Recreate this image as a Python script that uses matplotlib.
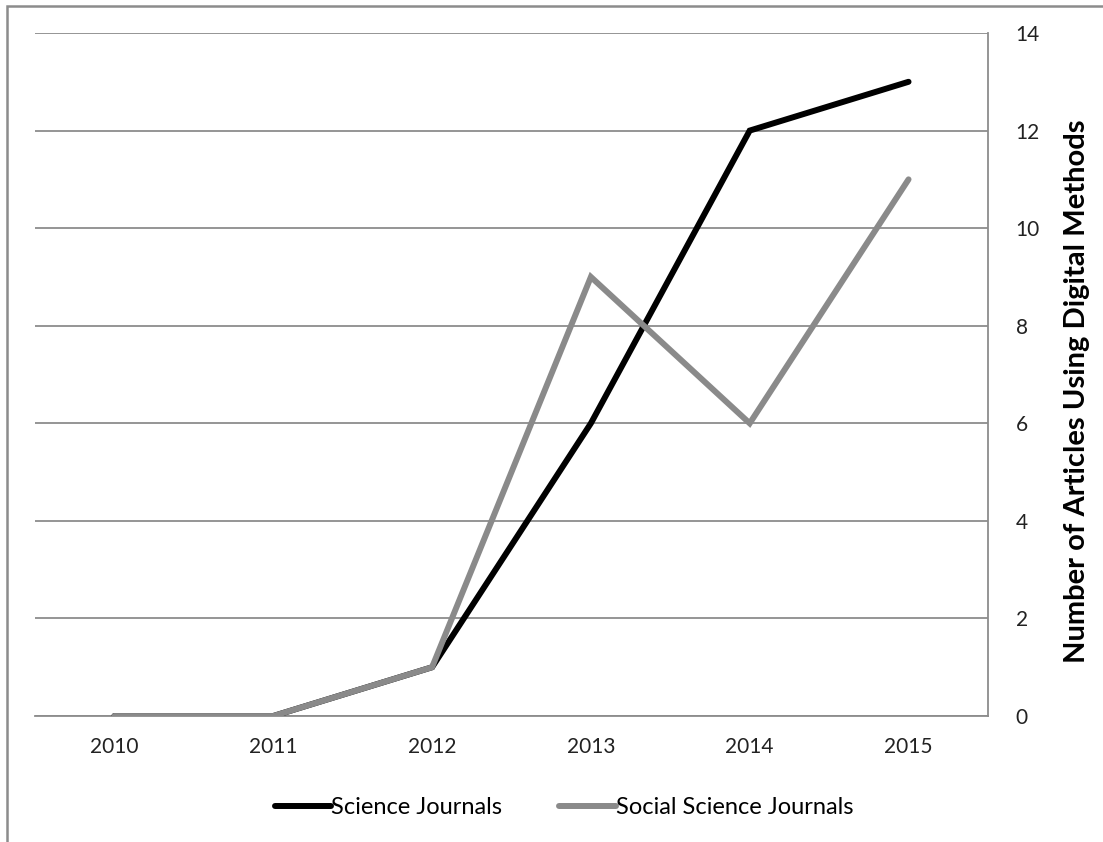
import matplotlib
matplotlib.use("Agg")
import matplotlib.pyplot as plt
from matplotlib.patches import Rectangle

years = ["2010", "2011", "2012", "2013", "2014", "2015"]
science = [0, 0, 1, 6, 12, 13]
social_science = [0, 0, 1, 9, 6, 11]
y_ticks = [0, 2, 4, 6, 8, 10, 12, 14]

plt.rcParams["font.family"] = ["Lato", "DejaVu Sans"]

fig = plt.figure(figsize=(11.03, 8.42), dpi=100)
ax = fig.add_axes([0.0317, 0.1496, 0.8640, 0.8112])

# outer chart frame (only top and left edges are visible)
fig.patches.append(Rectangle((0.0063, -0.05), 1.2, 0.9929 + 0.05,
                             transform=fig.transFigure, fill=False,
                             edgecolor="#8c8c8c", linewidth=1.8))

x = list(range(len(years)))
ax.plot(x, science, color="black", linewidth=4.3, label="Science Journals",
        solid_capstyle="round", solid_joinstyle="miter", zorder=3)
ax.plot(x, social_science, color="#8a8a8a", linewidth=4.3,
        label="Social Science Journals",
        solid_capstyle="round", solid_joinstyle="miter", zorder=4)

ax.set_xlim(-0.5, len(years) - 0.5)
ax.set_ylim(0, 14)
ax.set_xticks(x)
ax.set_xticklabels(years)
ax.set_yticks(y_ticks)

ax.yaxis.tick_right()
ax.yaxis.set_label_position("right")
ax.grid(axis="y", color="#8c8c8c", linewidth=1.3)
ax.set_axisbelow(True)

for side in ["left", "top"]:
    ax.spines[side].set_visible(False)
for side in ["right", "bottom"]:
    ax.spines[side].set_color("#8c8c8c")
    ax.spines[side].set_linewidth(1.3)

ax.tick_params(axis="both", length=0, labelsize=15, colors="#222222")
ax.tick_params(axis="x", pad=15)
ax.tick_params(axis="y", pad=20)

ax.set_ylabel("Number of Articles Using Digital Methods", fontsize=21,
              fontweight="bold", labelpad=17, color="black", y=0.476)

leg = ax.legend(loc="upper center", bbox_to_anchor=(0.555, -0.088), ncol=2,
                frameon=False, fontsize=17, handlelength=2.4,
                handletextpad=0.0, columnspacing=2.4)

fig.savefig("out.png", dpi=100)
